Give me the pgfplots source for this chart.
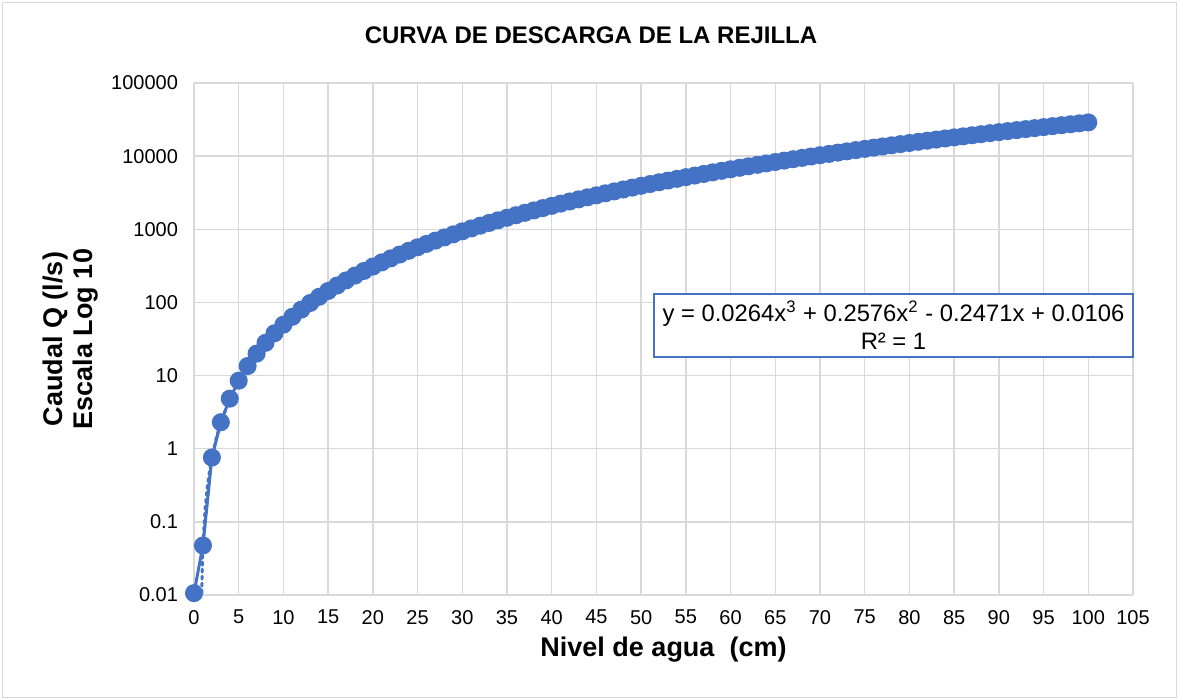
\documentclass[border=0pt]{standalone}
\usepackage{fontspec}
\setmainfont{Liberation Sans}
\usepackage{pgfplots}
\pgfplotsset{compat=1.18}
\definecolor{xblue}{HTML}{4472C4}
\definecolor{xgrid}{HTML}{D9D9D9}
\begin{document}
\begin{tikzpicture}
\begin{axis}[
  name=ax,
  at={(0,0)}, anchor=south west,
  scale only axis,
  width=469.5pt, height=256pt,
  ymode=log,
  xmin=0, xmax=105,
  ymin=0.01, ymax=100000,
  xtick={0,5,...,105},
  ytick={0.01,0.1,1,10,100,1000,10000,100000},
  yticklabels={0.01,0.1,1,10,100,1000,10000,100000},
  log basis y=10,
  minor ytick={},
  grid=major,
  major grid style={draw=xgrid, line width=0.75pt},
  axis line style={draw=none},
  major tick length=0pt,
  /pgf/number format/assume math mode=true,
  tick label style={font=\fontsize{10}{12}\selectfont, text=black},
  xticklabel style={yshift=-4pt},
  yticklabel style={xshift=-4.5pt},
  title={CURVA DE DESCARGA DE LA REJILLA},
  title style={at={(rel axis cs:0.4228,1.069)}, anchor=center, yshift=0pt, font=\fontsize{12}{14}\selectfont\bfseries},
  xlabel={Nivel de agua\ \ (cm)},
  xlabel style={at={(rel axis cs:0.5,-0.1074)}, anchor=center, font=\fontsize{13.5}{15}\selectfont\bfseries},
  ylabel={Caudal Q (l/s)\\Escala Log 10},
  ylabel style={at={(rel axis cs:-0.131,0.5)}, anchor=center, align=center, font=\fontsize{13.5}{15}\selectfont\bfseries},
  clip=false,
]
% polynomial trendline (dotted), visible near the origin
\addplot[xblue, line width=1.5pt, dotted, line cap=round, no markers, forget plot] coordinates {
(0.88,0.0106) (0.9,0.0161) (0.95,0.0310) (1,0.0475) (1.25,0.1558) (1.5,0.3087)
(1.75,0.5086) (2,0.758) (2.5,1.4154) (3,2.3005) (4,4.8334) (5,8.5151)
};
\addplot[xblue, line width=1.5pt, mark=*, mark size=3.75pt, mark options={fill=xblue, draw=xblue, solid}] coordinates {
(0,0.0106) (1,0.0475) (2,0.758) (3,2.3005) (4,4.8334) (5,8.5151) (6,13.504) (7,19.9585) (8,28.037) (9,37.898)
(10,49.70) (11,63.60) (12,79.759) (13,98.334) (14,119.48) (15,143.36) (16,170.14) (17,199.96) (18,232.99) (19,269.39)
(20,309.31) (21,352.91) (22,400.36) (23,451.81) (24,507.41) (25,567.33) (26,631.73) (27,700.76) (28,774.58) (29,853.36)
(30,937.24) (31,1026.39) (32,1120.96) (33,1221.12) (34,1327.02) (35,1438.82) (36,1556.68) (37,1680.76) (38,1811.22) (39,1948.20)
(40,2091.89) (41,2242.42) (42,2399.96) (43,2564.67) (44,2736.71) (45,2916.23) (46,3103.40) (47,3298.36) (48,3501.29) (49,3712.33)
(50,3931.66) (51,4159.41) (52,4395.76) (53,4640.87) (54,4894.88) (55,5157.96) (56,5430.27) (57,5711.96) (58,6003.20) (59,6304.14)
(60,6614.94) (61,6935.77) (62,7266.76) (63,7608.10) (64,7959.93) (65,8322.41) (66,8695.70) (67,9079.96) (68,9475.36) (69,9882.03)
(70,10300.15) (71,10729.88) (72,11171.37) (73,11624.77) (74,12090.26) (75,12567.98) (76,13058.09) (77,13560.77) (78,14076.15) (79,14604.40)
(80,15145.68) (81,15700.15) (82,16267.97) (83,16849.28) (84,17444.27) (85,18053.07) (86,18675.85) (87,19312.77) (88,19963.98) (89,20629.65)
(90,21309.93) (91,22004.98) (92,22714.97) (93,23440.04) (94,24180.35) (95,24936.08) (96,25707.36) (97,26494.37) (98,27297.25) (99,28116.18)
(100,28951.30)
};
\draw[xblue, line width=0.75pt, fill=white] (rel axis cs:0.4899,0.465) rectangle (rel axis cs:1,0.588);
\node[align=center, font=\fontsize{11.9}{14}\selectfont, inner sep=0pt] at (rel axis cs:0.74495,0.5265)
  {y = 0.0264x\textsuperscript{3} + 0.2576x\textsuperscript{2} - 0.2471x + 0.0106\\R² = 1};
\end{axis}
\path (ax.south west) ++(-97pt,-52.5pt) coordinate (A);
\path (ax.south west) ++(492.5pt,297.5pt) coordinate (B);
\path (A) ++(1.25pt,1.25pt) coordinate (A1);
\path (B) ++(-1.25pt,-1.25pt) coordinate (B1);
\draw[xgrid, line width=0.75pt] (A1) rectangle (B1);
\pgfresetboundingbox
\useasboundingbox (A) rectangle (B);
\end{tikzpicture}
\end{document}
